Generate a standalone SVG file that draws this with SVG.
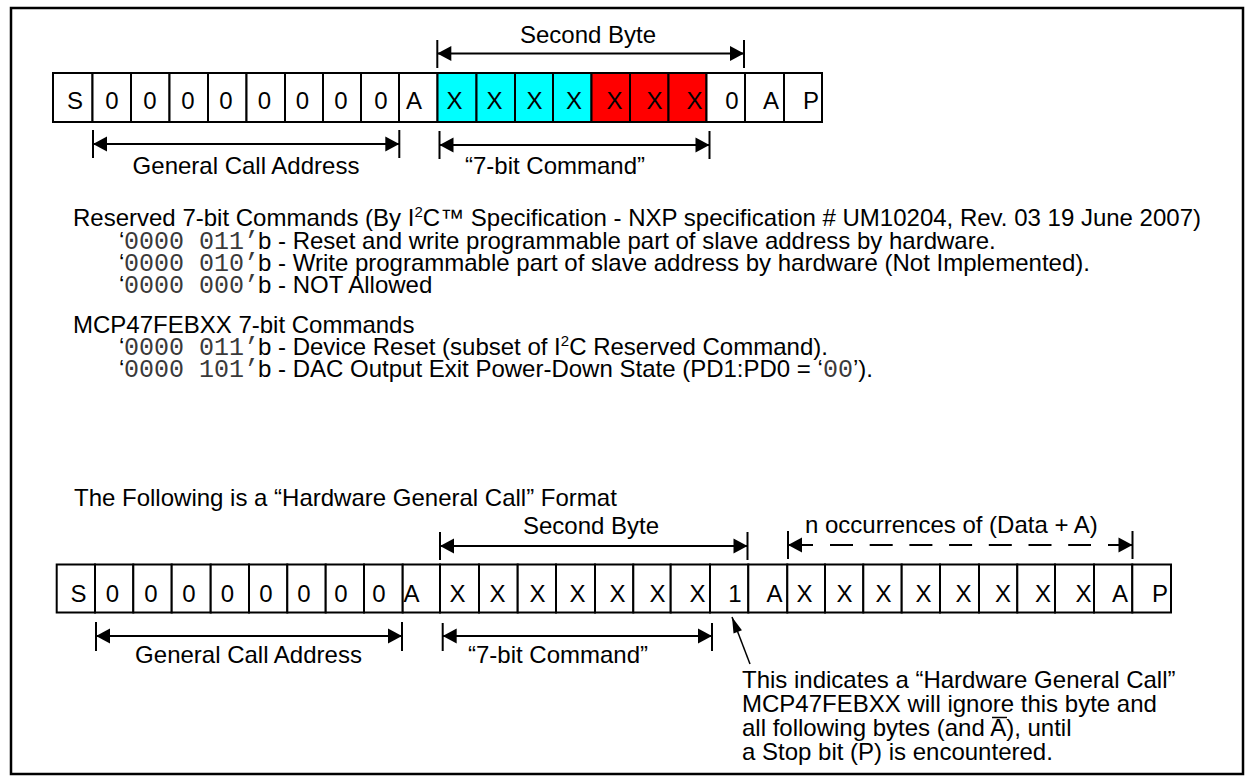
<svg xmlns="http://www.w3.org/2000/svg" width="1254" height="782" viewBox="0 0 1254 782">
<style>
text{font-family:"Liberation Sans",Arial,sans-serif;font-size:24px;fill:#000}
.c{text-anchor:middle}
.mono{font-family:"Liberation Mono","Courier New",monospace;font-size:25px;fill:#3a3a3a}
.sup{font-size:15px}
.cell{fill:#fff;stroke:#000;stroke-width:2}
.cy{fill:#00ffff}
.rd{fill:#ff0000}
.ln{stroke:#000;stroke-width:2;fill:none}
.dash{stroke-dasharray:23 16.7}
.ptr{stroke:#000;stroke-width:1.5;fill:none}
</style>
<defs>
<marker id="ah" markerUnits="userSpaceOnUse" markerWidth="16" markerHeight="16" viewBox="0 0 16 16" refX="15" refY="8" orient="auto-start-reverse"><path d="M1,0.5 L15,8 L1,15.5 Z" fill="#000"/></marker>
<marker id="ap" markerUnits="userSpaceOnUse" markerWidth="18" markerHeight="12" viewBox="0 0 18 12" refX="17" refY="6" orient="auto"><path d="M1,1.5 L17,6 L1,10.5 Z" fill="#000"/></marker>
</defs>
<rect id="frame" x="11" y="8" width="1232" height="766" fill="none" stroke="#000" stroke-width="2.5"/>

<g id="row-top">
<g id="t0"><rect class="cell" x="53" y="73" width="39.5" height="49"/><text class="c" x="75" y="109">S</text></g>
<g id="t1"><rect class="cell" x="92.5" y="73" width="38.5" height="49"/><text class="c" x="112" y="109">0</text></g>
<g id="t2"><rect class="cell" x="131" y="73" width="38.5" height="49"/><text class="c" x="150" y="109">0</text></g>
<g id="t3"><rect class="cell" x="169.5" y="73" width="38.5" height="49"/><text class="c" x="188" y="109">0</text></g>
<g id="t4"><rect class="cell" x="208" y="73" width="38.5" height="49"/><text class="c" x="226" y="109">0</text></g>
<g id="t5"><rect class="cell" x="246.5" y="73" width="38.5" height="49"/><text class="c" x="264.5" y="109">0</text></g>
<g id="t6"><rect class="cell" x="285" y="73" width="38" height="49"/><text class="c" x="302.5" y="109">0</text></g>
<g id="t7"><rect class="cell" x="323" y="73" width="38" height="49"/><text class="c" x="341" y="109">0</text></g>
<g id="t8"><rect class="cell" x="361" y="73" width="38" height="49"/><text class="c" x="381" y="109">0</text></g>
<g id="t9"><rect class="cell" x="399" y="73" width="38.5" height="49"/><text class="c" x="414" y="109">A</text></g>
<g id="t10"><rect class="cell cy" x="437.5" y="73" width="39" height="49"/><text class="c" x="454.5" y="109">X</text></g>
<g id="t11"><rect class="cell cy" x="476.5" y="73" width="38.5" height="49"/><text class="c" x="494.5" y="109">X</text></g>
<g id="t12"><rect class="cell cy" x="515" y="73" width="38" height="49"/><text class="c" x="534.5" y="109">X</text></g>
<g id="t13"><rect class="cell cy" x="553" y="73" width="38.5" height="49"/><text class="c" x="574" y="109">X</text></g>
<g id="t14"><rect class="cell rd" x="591.5" y="73" width="38.5" height="49"/><text class="c" x="614.5" y="109">X</text></g>
<g id="t15"><rect class="cell rd" x="630" y="73" width="38.5" height="49"/><text class="c" x="654.5" y="109">X</text></g>
<g id="t16"><rect class="cell rd" x="668.5" y="73" width="38" height="49"/><text class="c" x="694.5" y="109">X</text></g>
<g id="t17"><rect class="cell" x="706.5" y="73" width="38.5" height="49"/><text class="c" x="732" y="109">0</text></g>
<g id="t18"><rect class="cell" x="745" y="73" width="39" height="49"/><text class="c" x="771" y="109">A</text></g>
<g id="t19"><rect class="cell" x="784" y="73" width="38" height="49"/><text class="c" x="811" y="109">P</text></g>
</g>

<g id="row-bottom">
<g id="b0"><rect class="cell" x="56.7" y="564.5" width="38.3" height="48"/><text class="c" x="78.5" y="602">S</text></g>
<g id="b1"><rect class="cell" x="95" y="564.5" width="38.3" height="48"/><text class="c" x="112.5" y="602">0</text></g>
<g id="b2"><rect class="cell" x="133.3" y="564.5" width="38.4" height="48"/><text class="c" x="151" y="602">0</text></g>
<g id="b3"><rect class="cell" x="171.7" y="564.5" width="39" height="48"/><text class="c" x="189" y="602">0</text></g>
<g id="b4"><rect class="cell" x="210.7" y="564.5" width="38.3" height="48"/><text class="c" x="227.5" y="602">0</text></g>
<g id="b5"><rect class="cell" x="249" y="564.5" width="38.3" height="48"/><text class="c" x="266" y="602">0</text></g>
<g id="b6"><rect class="cell" x="287.3" y="564.5" width="38.4" height="48"/><text class="c" x="304" y="602">0</text></g>
<g id="b7"><rect class="cell" x="325.7" y="564.5" width="38.3" height="48"/><text class="c" x="341" y="602">0</text></g>
<g id="b8"><rect class="cell" x="364" y="564.5" width="38.7" height="48"/><text class="c" x="379" y="602">0</text></g>
<g id="b9"><rect class="cell" x="402.7" y="564.5" width="37.3" height="48"/><text class="c" x="411.5" y="602">A</text></g>
<g id="b10"><rect class="cell" x="440" y="564.5" width="39" height="48"/><text class="c" x="457.5" y="602">X</text></g>
<g id="b11"><rect class="cell" x="479" y="564.5" width="38.7" height="48"/><text class="c" x="497.5" y="602">X</text></g>
<g id="b12"><rect class="cell" x="517.7" y="564.5" width="38.3" height="48"/><text class="c" x="537.5" y="602">X</text></g>
<g id="b13"><rect class="cell" x="556" y="564.5" width="39" height="48"/><text class="c" x="577.5" y="602">X</text></g>
<g id="b14"><rect class="cell" x="595" y="564.5" width="38.3" height="48"/><text class="c" x="617.5" y="602">X</text></g>
<g id="b15"><rect class="cell" x="633.3" y="564.5" width="37.4" height="48"/><text class="c" x="657.5" y="602">X</text></g>
<g id="b16"><rect class="cell" x="670.7" y="564.5" width="39.3" height="48"/><text class="c" x="697.5" y="602">X</text></g>
<g id="b17"><rect class="cell" x="710" y="564.5" width="38.3" height="48"/><text class="c" x="735" y="602">1</text></g>
<g id="b18"><rect class="cell" x="748.3" y="564.5" width="39" height="48"/><text class="c" x="774.5" y="602">A</text></g>
<g id="b19"><rect class="cell" x="787.3" y="564.5" width="37.7" height="48"/><text class="c" x="804.5" y="602">X</text></g>
<g id="b20"><rect class="cell" x="825" y="564.5" width="38.3" height="48"/><text class="c" x="844.5" y="602">X</text></g>
<g id="b21"><rect class="cell" x="863.3" y="564.5" width="38.4" height="48"/><text class="c" x="883.5" y="602">X</text></g>
<g id="b22"><rect class="cell" x="901.7" y="564.5" width="38.3" height="48"/><text class="c" x="923.5" y="602">X</text></g>
<g id="b23"><rect class="cell" x="940" y="564.5" width="39" height="48"/><text class="c" x="963.5" y="602">X</text></g>
<g id="b24"><rect class="cell" x="979" y="564.5" width="38.3" height="48"/><text class="c" x="1003" y="602">X</text></g>
<g id="b25"><rect class="cell" x="1017.3" y="564.5" width="37.7" height="48"/><text class="c" x="1043" y="602">X</text></g>
<g id="b26"><rect class="cell" x="1055" y="564.5" width="39" height="48"/><text class="c" x="1083.5" y="602">X</text></g>
<g id="b27"><rect class="cell" x="1094" y="564.5" width="38.3" height="48"/><text class="c" x="1120" y="602">A</text></g>
<g id="b28"><rect class="cell" x="1132.3" y="564.5" width="38.7" height="48"/><text class="c" x="1160" y="602">P</text></g>
</g>

<g id="connectors">
<line class="ln" x1="437.3" y1="40" x2="437.3" y2="68"/>
<line class="ln" x1="744" y1="40" x2="744" y2="68"/>
<line class="ln" x1="437.3" y1="53.5" x2="744" y2="53.5" marker-start="url(#ah)" marker-end="url(#ah)"/>
<line class="ln" x1="93" y1="130" x2="93" y2="158"/>
<line class="ln" x1="399.3" y1="130" x2="399.3" y2="158"/>
<line class="ln" x1="93" y1="144" x2="399.3" y2="144" marker-start="url(#ah)" marker-end="url(#ah)"/>
<line class="ln" x1="439.5" y1="131" x2="439.5" y2="159"/>
<line class="ln" x1="709.5" y1="131" x2="709.5" y2="159"/>
<line class="ln" x1="439.5" y1="145" x2="709.5" y2="145" marker-start="url(#ah)" marker-end="url(#ah)"/>

<line class="ln" x1="440" y1="532" x2="440" y2="560"/>
<line class="ln" x1="747.5" y1="532" x2="747.5" y2="560"/>
<line class="ln" x1="440" y1="546" x2="747.5" y2="546" marker-start="url(#ah)" marker-end="url(#ah)"/>
<line class="ln" x1="788" y1="531" x2="788" y2="559"/>
<line class="ln" x1="1132.5" y1="531" x2="1132.5" y2="559"/>
<line class="ln" x1="788" y1="545" x2="813" y2="545" marker-start="url(#ah)"/>
<line class="ln dash" x1="830" y1="545" x2="1091" y2="545"/>
<line class="ln" x1="1108" y1="545" x2="1132.5" y2="545" marker-end="url(#ah)"/>
<line class="ln" x1="96" y1="622" x2="96" y2="651"/>
<line class="ln" x1="402" y1="622" x2="402" y2="651"/>
<line class="ln" x1="96" y1="636" x2="402" y2="636" marker-start="url(#ah)" marker-end="url(#ah)"/>
<line class="ln" x1="442.7" y1="623" x2="442.7" y2="651"/>
<line class="ln" x1="712" y1="623" x2="712" y2="651"/>
<line class="ln" x1="442.7" y1="636" x2="712" y2="636" marker-start="url(#ah)" marker-end="url(#ah)"/>
<line class="ptr" x1="750" y1="664" x2="732" y2="617" marker-end="url(#ap)"/>
</g>

<g id="labels">
<text class="c" x="588" y="43">Second Byte</text>
<text class="c" x="246" y="174">General Call Address</text>
<text x="465" y="174">“7-bit Command”</text>
<text class="c" x="591" y="534">Second Byte</text>
<text x="805" y="533">n occurrences of (Data + A)</text>
<text class="c" x="248.5" y="663">General Call Address</text>
<text x="468" y="663">“7-bit Command”</text>
</g>

<g id="reserved">
<text x="73" y="226">Reserved 7-bit Commands (By I<tspan class="sup" dy="-9">2</tspan><tspan dy="9">C™ Specification - NXP specification # UM10204, Rev. 03 19 June 2007)</tspan></text>
<text y="248.5"><tspan x="119">‘</tspan><tspan x="124" class="mono">0000 011’</tspan><tspan x="258">b - Reset and write programmable part of slave address by hardware.</tspan></text>
<text y="270.5"><tspan x="119">‘</tspan><tspan x="124" class="mono">0000 010’</tspan><tspan x="258">b - Write programmable part of slave address by hardware (Not Implemented).</tspan></text>
<text y="292.5"><tspan x="119">‘</tspan><tspan x="124" class="mono">0000 000’</tspan><tspan x="258">b - NOT Allowed</tspan></text>
</g>

<g id="mcp">
<text x="73" y="333">MCP47FEBXX 7-bit Commands</text>
<text y="355"><tspan x="119">‘</tspan><tspan x="124" class="mono">0000 011’</tspan><tspan x="258">b - Device Reset (subset of I</tspan><tspan class="sup" dy="-9">2</tspan><tspan dy="9">C Reserved Command).</tspan></text>
<text y="377"><tspan x="119">‘</tspan><tspan x="124" class="mono">0000 101’</tspan><tspan x="258">b - DAC Output Exit Power-Down State (PD1:PD0 = ‘</tspan><tspan class="mono">00</tspan><tspan>’).</tspan></text>
</g>

<g id="hw-title">
<text x="74" y="506">The Following is a “Hardware General Call” Format</text>
</g>

<g id="note">
<text x="742" y="688">This indicates a “Hardware General Call”</text>
<text x="742" y="712">MCP47FEBXX will ignore this byte and</text>
<text x="742" y="736">all following bytes (and A), until</text>
<text x="742" y="760">a Stop bit (P) is encountered.</text>
<line x1="992" y1="717.5" x2="1007" y2="717.5" stroke="#000" stroke-width="1.5"/>
</g>
</svg>
